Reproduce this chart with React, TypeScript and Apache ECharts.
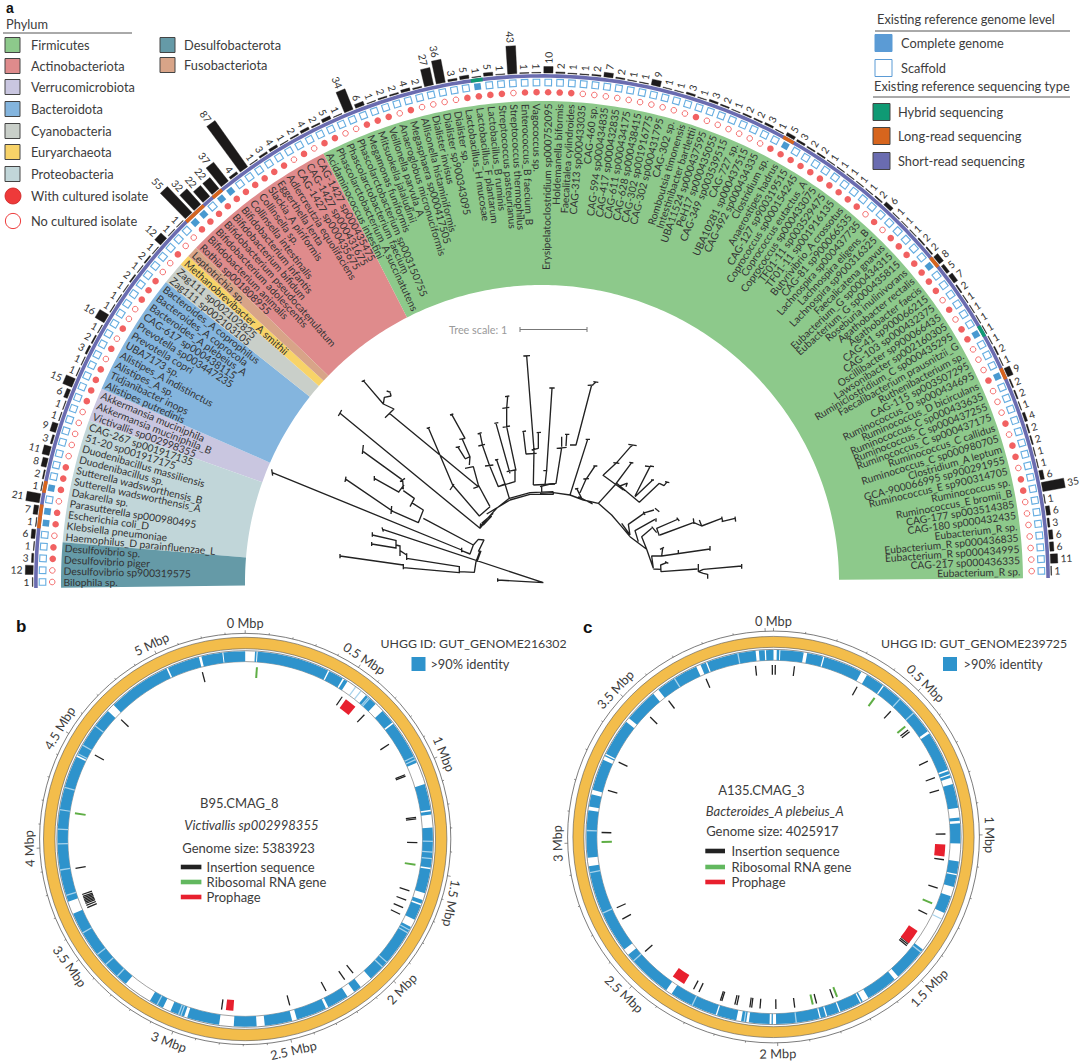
import React, { useEffect, useRef } from "react";
import * as echarts from "echarts";

const FONT = "Lato";
const INK = "#3c3c3c";
const W = 1080, H = 1062;

// ---------- panel a data ----------
const taxa = ["Bilophila sp.","Desulfovibrio sp900319575","Desulfovibrio piger","Desulfovibrio sp.","Haemophilus_D parainfluenzae_L","Klebsiella pneumoniae","Escherichia coli_D","Parasutterella sp000980495","Dakarella sp.","Sutterella wadsworthensis_A","Sutterella wadsworthensis_B","Duodenibacillus sp.","Duodenibacillus massiliensis","51-20 sp001917175","CAG-267 sp001917135","Victivallis sp002998355","Akkermansia muciniphila_B","Akkermansia muciniphila","Alistipes putredinis","Tidjanibacter inops","Alistipes_A sp.","Alistipes_A indistinctus","UBA7173 sp.","Prevotella copri","Prevotella sp003447235","CAG-617 sp000438115","Bacteroides_A plebeius_A","Bacteroides_A coprocola","Bacteroides_A coprophilus","Zag111 sp002103105","Zag111 sp002102825","Methanobrevibacter_A smithii","Leptotrichia sp.","Rothia sp001808955","Bifidobacterium animalis","Bifidobacterium adolescentis","Bifidobacterium pseudocatenulatum","Bifidobacterium bifidum","Bifidobacterium infantis","Collinsella intestinalis","Collinsella sp.","Slackia_A piriformis","Eggerthella lenta","Adlercreutzia equolifaciens","CAG-1427 sp000435675","CAG-1427 sp000431675","CAG-1427 sp000435475","Acidaminococcus intestini","Phascolarctobacterium_A succinatutens","Phascolarctobacterium faecium","Phascolarctobacterium sp003150755","Megamonas funiformis","Mitsuokella jalaludinii","Veillonella parvula_A","Anaeroglobus micronuciformis","Megasphaera sp000417505","Allisonella histaminiformis","Dialister invisus","Dialister sp900343095","Dialister sp.","Lactobacillus_H mucosae","Lactobacillus_F plantarum","Lactobacillus_B ruminis","Streptococcus pasteurianus","Streptococcus thermophilus","Enterococcus_B faecium_B","Vagococcus sp.","Erysipelatoclostridium sp000752095","Holdemanella biformis","Faecalitalea cylindroides","CAG-313 sp000433035","CAG-460 sp.","CAG-594 sp000434835","CAG-417 sp000432835","CAG-611 sp000434175","CAG-628 sp000438415","CAG-302 sp001916775","CAG-302 sp000431795","CAG-302 sp.","Romboutsia timonensis","Intestinibacter bartlettii","UBA11524 sp000437595","PeH17 sp000435055","CAG-349 sp003539515","CAG-727 sp.","UBA10281 sp000437515","CAG-492 sp000434335","Clostridium sp.","Anaerostipes hadrus","CAG-127 sp900319515","Coprococcus sp000154245","Coprococcus eutactus_A","Coprococcus sp000433075","TF01-11 sp003529475","TF01-11 sp001916135","Butyrivibrio_A crossotus","CAG-81 sp900066535","Lachnospira sp000437735","Lachnospira eligens_B","Lachnospira sp900316325","Faecalicatena gnavus","Eubacterium_G sp000434315","Eubacterium_G sp000435815","Roseburia inulinivorans","Agathobacter rectalis","Agathobacter faecis","CAG-41 sp900066215","CAG-103 sp000432375","Oscillibacter sp900066435","Lawsonibacter sp002160305","Ruminiclostridium_C sp000435295","Faecalibacterium prausnitzii_G","Ruthenibacterium sp.","CAG-115 sp003507295","Ruminococcus_D sp000434695","Ruminococcus_D bicirculans","Ruminococcus_C sp000433635","Ruminococcus_C sp000437255","Ruminococcus_C sp000437175","Ruminococcus_C callidus","Ruminococcus_C sp000980705","Clostridium_A leptum","GCA-900066995 sp900291955","Ruminococcus_E sp900314705","Ruminococcus sp.","Ruminococcus_E bromii_B","CAG-177 sp003514385","CAG-180 sp000432435","Eubacterium_R sp.","Eubacterium_R sp000436835","Eubacterium_R sp000434995","CAG-217 sp000436335","Eubacterium_R sp."];
const counts = [1,12,3,1,6,1,7,21,1,2,8,11,3,9,1,1,6,15,1,1,3,2,1,16,1,1,1,2,1,2,1,12,1,1,55,32,22,22,37,4,87,1,3,4,1,2,4,2,5,1,34,6,1,2,2,4,2,27,36,3,5,1,5,1,43,1,1,10,2,1,1,2,7,2,1,1,9,1,1,3,1,3,2,1,2,2,3,1,5,3,2,2,1,1,1,1,1,2,6,1,1,1,2,2,8,5,7,2,1,1,1,1,1,2,1,9,2,2,1,4,2,2,1,1,6,35,1,6,3,6,6,11,1];
const withCultured = [2,3,5,6,8,9,10,16,17,18,19,21,23,26,27,28,31,34,35,36,37,38,39,40,41,42,43,45,47,48,51,52,53,55,60,61,62,63,65,66,67,68,69,80,87,88,89,90,91,92,93,94,95,96,98,100,101,102,103,104,105,106,108,110,111,115,119,121,122,124,125];
const completeGenome = [5,6,8,34,35,37,38,61,88,104,111,115];
const longRead = [5,6,8,34,35,37,88,104,115];
const hybrid = [61,111];
const phylumNames = ["Firmicutes","Actinobacteriota","Verrucomicrobiota","Bacteroidota","Cyanobacteria","Euryarchaeota","Proteobacteria","Desulfobacterota","Fusobacteriota"];
const phylumColors = ["#8dc98b","#df8b8c","#c9c6e0","#84b5de","#c9cfc9","#f8d368","#c1d6d9","#659aa7","#d8a488"];
const phylumRanges = [[46.5,132.62],[32.5,46.5],[14.5,17.5],[17.5,28.5],[28.5,30.5],[30.5,31.5],[3.5,14.5],[-0.5,3.5],[31.5,32.5]];

const C_SHORT = "#6a6cb0", C_LONG = "#d7651d", C_HYBRID = "#0f9a74", C_RED = "#ee3a3a";

// ---------- tree data (branch layout units) ----------
const treeLeft: number[][][] = [
[[803,805],[803,815]],[[803,810],[940,818],[458,658]],[[456,652],[460,665]],[[330,732],[330,745]],[[330,738],[520,765]],
[[520,762],[520,778]],[[520,773],[688,788]],[[688,768],[688,790]],[[530,730],[530,750]],[[530,745],[688,770]],
[[427,667],[427,680]],[[427,675],[500,692]],[[425,696],[425,708]],[[425,702],[498,714]],[[498,690],[498,716]],
[[498,705],[510,708]],[[510,706],[510,738]],[[510,722],[530,735]],[[688,785],[733,787],[738,755],[750,722]],[[741,755],[753,722]],
[[125,478],[128,497]],[[125,487],[695,720]],[[695,713],[695,727]],[[695,722],[720,732],[730,705],[745,688],[762,690],[745,725]],
[[580,625],[730,705]],[[348,500],[345,516]],[[348,508],[490,605]],[[485,588],[483,612]],[[490,605],[565,638],[580,600],[545,578]],
[[540,590],[553,565],[520,542]],[[505,547],[522,525]],[[433,498],[433,512]],[[433,505],[508,547]],[[518,510],[520,538]],[[510,515],[525,505]],
[[400,405],[397,432]],[[400,425],[515,508]],[[325,318],[335,300]],[[330,310],[750,655],[770,630]],[[750,655],[752,640]],
[[590,355],[600,352]],[[595,353],[668,525],[748,618],[780,590]],[[660,540],[672,522]],[[395,215],[405,210]],[[400,212],[460,282],[492,297],[465,323]],
[[470,243],[482,247]],[[480,245],[483,258],[463,262],[460,282]],[[478,310],[745,530],[730,535]],[[660,315],[670,312]],[[665,313],[705,385]],
[[688,388],[706,385]],[[697,388],[720,440],[705,447]],[[677,412],[690,410]],[[683,410],[705,445]],[[720,440],[718,465]],[[705,475],[730,470],[745,525],[780,590]],
[[743,372],[755,368]],[[750,370],[757,403]],[[745,408],[765,403]],[[757,405],[778,465]],[[765,468],[790,465]],[[778,465],[805,530],[855,515],[855,480],[830,485]],
[[795,450],[805,448]],[[800,450],[825,522],[838,565]],[[805,530],[825,522]],[[793,340],[805,338]],[[798,340],[840,490]],
[[825,260],[838,258]],[[833,260],[830,295]],[[817,295],[838,292]],[[830,295],[830,350]],[[818,352],[840,348]],[[830,350],[858,482]],
[[750,650],[800,595],[838,565],[900,548],[970,545]],[[755,640],[790,610]],[[760,645],[785,618]],[[770,612],[840,570]],[[840,570],[900,553],[970,553],[970,545]],
[[880,138],[900,137]],[[890,138],[912,420],[910,525]],[[877,365],[888,363]],[[880,365],[888,432],[920,430]],[[920,368],[933,367]],[[925,368],[925,415],[905,420]],
[[910,525],[975,522]],[[935,525],[935,545]]];
const treeRight: number[][][] = [
[[160,125],[175,127]],[[168,126],[155,137]],[[143,136],[160,135]],[[155,135],[108,315],[90,315]],[[75,283],[88,283]],[[80,285],[78,318]],[[65,290],[65,320]],
[[50,325],[80,322]],[[65,323],[48,430],[30,432]],[[28,144],[44,144]],[[36,145],[20,390],[15,435]],[[10,392],[22,392]],[[0,440],[30,432]],[[137,298],[150,298]],
[[143,298],[90,465]],[[160,378],[172,378]],[[165,378],[138,418]],[[130,417],[147,416]],[[138,418],[120,458]],[[105,447],[115,445]],[[110,445],[125,475]],
[[0,460],[40,458],[90,465],[130,480],[175,490],[215,525],[245,560],[270,590]],[[115,470],[158,492]],[[245,550],[270,585]],
[[265,313],[290,317]],[[278,316],[270,322],[228,370],[190,405]],[[220,368],[238,370]],[[268,367],[280,369]],[[275,368],[225,435],[175,490]],
[[188,405],[250,450]],[[240,438],[260,430]],[[240,438],[255,452]],[[262,428],[258,440]],[[230,430],[298,487],[358,430]],[[315,378],[330,380],[285,468]],
[[330,378],[342,380]],[[333,420],[342,420]],[[338,420],[285,470]],[[375,425],[388,428]],[[382,425],[372,437],[358,430]],[[345,505],[358,515]],
[[342,510],[315,518],[265,553],[270,585]],[[310,515],[315,525]],[[348,535],[348,545]],[[345,538],[285,572],[295,605]],[[410,533],[418,543]],
[[415,537],[350,565],[358,587]],[[335,560],[350,578]],[[360,585],[460,548]],[[460,535],[462,552]],[[462,548],[485,558]],[[478,540],[485,558],[545,535]],
[[545,530],[548,545]],[[545,545],[585,535]],[[585,530],[587,545]],[[335,565],[305,590],[320,628]],[[510,618],[510,632]],[[510,627],[365,648]],
[[415,630],[415,645]],[[360,628],[372,622]],[[368,625],[365,648],[335,648],[340,685],[320,628],[270,590]],[[375,665],[385,670]],[[380,668],[362,675],[363,695],[472,687]],
[[340,687],[363,688]],[[605,672],[605,686]],[[605,678],[490,688]],[[475,672],[475,695],[490,688]],[[475,695],[490,700],[503,703]],[[503,702],[503,716]]];

// ---------- panels b and c data (degrees clockwise from 0 Mbp) ----------
const genomeB = {
  size: 5.383923,
  ticks: [0,0.5,1,1.5,2,2.5,3,3.5,4,4.5,5],
  gaps: [[0,3],[3.5,3.8],[26.2,26.6],[31.3,31.8],[33,40],[44,47],[51.6,52.1],[66,73],[81,81.5],[82.5,86.5],[98.8,99.3],[106.8,109],[110.2,110.7],[115.5,118],[138,142],[144.5,147],[153.7,154.5],[164,165.5],[174,176.5],[183.5,188],[198,199],[203.5,206],[210.5,219.5],[246.5,250.5],[296,296.5],[313,315.5],[335.2,335.7],[345.7,346.5],[353,353.3]],
  pale: [36,38,41,41.5,64,65,90.7,94,96,119,120,131,133,200,200.8,208,223,228,232,240,252.5,260.5,268.5,273,279,286,297,300,307],
  insertion: [345.6,34.3,43.8,56.6,68.1,68.6,82.8,83.3,91.2,107.5,110.8,113.5,115.9,141.2,144.7,152,165,187.9,246.5,247.3,248,248.5,249,249.5,250,250.5,251.2,260.2,299.2,313.9],
  rrna: [3.9,98.6,278.6],
  prophage: [[37.8,4],[185.2,2.5]],
};
const genomeC = {
  size: 4.025917,
  ticks: [0,0.5,1,1.5,2,2.5,3,3.5],
  gaps: [[0,1],[1.8,2.1],[9.3,10.4],[15.4,15.8],[28,30],[35.8,36.2],[55.6,56.4],[68.8,69.3],[70.3,70.7],[71.5,73.5],[81,84],[85,85.8],[92,97.5],[101.4,101.8],[105.5,108.5],[114,127],[138.2,139.6],[149.5,151.5],[152,152.4],[159,159.4],[163.3,163.7],[165.3,165.7],[179.2,180.2],[180.6,181.2],[187.6,188.4],[190,191.5],[197.6,198],[213,215],[231,233],[261,263.6],[278.2,279.4],[283.2,284.6],[294.4,295.6],[296,296.4],[308,309.4],[320,322],[335.6,337],[338.8,339.2],[354.5,355.5],[357.3,357.7]],
  pale: [42.5,48.5,116,128,173,189,205.8,228.5,246,259,272,328,349],
  insertion: [354,359.6,0.6,7,29.1,43,51.5,52.3,63.8,69.8,74.2,89,97.6,107.3,116.7,128,128.6,129.2,159.7,165.5,172.9,179.2,184.5,187.3,187.9,192.3,193,197.5,198,205.7,207.7,228.3,241.5,245.7,271.5,285.7,295.8,314.2,322.4,336.9],
  rrna: [36,50,112.7,158.3,166.8,268.3],
  prophage: [[94.5,4],[125.6,5],[213.6,4.5]],
};

// ---------- geometry of the polar frames ----------
const STEP = 1.354;             // degrees per taxon
const A_CX = 542, A_CY = 582, A_R = 575, BAR_BASE = 509, BAR_K = 0.65;
const B = { cx: 245.2, cy: 839, outer: 205.6, y1: 201.7, y0: 190.3, ring: 188.3, b1: 187.7, b0: 177.4, f0: 161.4, f1: 172.2 };
const Cc = { cx: 773.5, cy: 837, outer: 205.9, y1: 200.6, y0: 189.7, ring: 187.6, b1: 187, b0: 176.7, f0: 161.7, f1: 172 };

const TEXT = (text: string, x: number, y: number, size = 12.8, extra: any = {}) => ({
  type: "text", x, y, silent: true,
  style: { text, fontFamily: FONT, fontSize: size, fill: INK, align: "left", verticalAlign: "middle", ...extra },
});

function arc(api: any, r0: number, r1: number, a0: number, a1: number, n = 8) {
  const pts: number[][] = [];
  for (let k = 0; k <= n; k++) pts.push(api.coord([r1, a0 + ((a1 - a0) * k) / n]));
  for (let k = n; k >= 0; k--) pts.push(api.coord([r0, a0 + ((a1 - a0) * k) / n]));
  return pts;
}

function treeData(lines: number[][][]) {
  const out: any[] = [];
  lines.forEach((l) => { l.forEach((p) => out.push(p)); out.push(["-", "-"]); });
  return out;
}

function genomeSeries(polarIndex: number, g: any, f: typeof B) {
  const sorted = [...g.gaps].sort((a: number[], b: number[]) => a[0] - b[0]);
  const blocks: number[][] = [];
  let pos = sorted[0][1];
  sorted.slice(1).forEach((gap: number[]) => { blocks.push([pos, gap[0]]); pos = gap[1]; });
  blocks.push([pos, 360 + sorted[0][0]]);
  const base = { type: "custom", coordinateSystem: "polar", polarIndex, silent: true, clip: false };
  const minor: number[] = [];
  for (let m = 0; m < g.size; m += 0.1) minor.push(m);
  return [
    { ...base, data: [[0, 0]], renderItem: () => ({ type: "group", children: [
        { type: "ring", shape: { cx: f.cx, cy: f.cy, r: f.y1, r0: f.y0 }, style: { fill: "#f3bd4b", stroke: "#555", lineWidth: 0.6 } },
        { type: "circle", shape: { cx: f.cx, cy: f.cy, r: f.outer }, style: { fill: "none", stroke: "#444", lineWidth: 0.7 } },
        { type: "circle", shape: { cx: f.cx, cy: f.cy, r: f.ring }, style: { fill: "none", stroke: "#444", lineWidth: 0.6 } },
        { type: "circle", shape: { cx: f.cx, cy: f.cy, r: f.b0 }, style: { fill: "none", stroke: "#444", lineWidth: 0.5 } },
      ] }) },
    { ...base, data: blocks.map((b) => [f.b0, b[0]]), renderItem: (p: any, api: any) => {
        const b = blocks[p.dataIndex];
        return { type: "polygon", shape: { points: arc(api, f.b0, f.b1, b[0], b[1], Math.max(2, Math.ceil((b[1] - b[0]) / 2))) }, style: { fill: "#2e93cc" } };
      } },
    { ...base, data: g.pale.map((a: number) => [f.b0, a]), renderItem: (p: any, api: any) => {
        const a = g.pale[p.dataIndex];
        return { type: "polygon", shape: { points: arc(api, f.b0, f.b1, a - 0.2, a + 0.2, 1) }, style: { fill: "#a7d3ec" } };
      } },
    { ...base, data: minor.map((m) => [f.outer, m]), renderItem: (p: any, api: any) => {
        const a = (minor[p.dataIndex] / g.size) * 360;
        const major = Math.abs(minor[p.dataIndex] * 2 - Math.round(minor[p.dataIndex] * 2)) < 1e-6;
        const s = api.coord([f.outer, a]), e = api.coord([f.outer + (major ? 3.2 : 1.7), a]);
        return { type: "line", shape: { x1: s[0], y1: s[1], x2: e[0], y2: e[1] }, style: { stroke: "#444", lineWidth: 0.6 } };
      } },
    { ...base, data: g.insertion.map((a: number) => [f.f0, a]), renderItem: (p: any, api: any) => {
        const a = g.insertion[p.dataIndex];
        const s = api.coord([f.f0 + 0.5, a]), e = api.coord([f.f1, a]);
        return { type: "line", shape: { x1: s[0], y1: s[1], x2: e[0], y2: e[1] }, style: { stroke: "#222", lineWidth: 1.3 } };
      } },
    { ...base, data: g.rrna.map((a: number) => [f.f0, a]), renderItem: (p: any, api: any) => {
        const a = g.rrna[p.dataIndex];
        const s = api.coord([f.f0, a]), e = api.coord([f.f1, a]);
        return { type: "line", shape: { x1: s[0], y1: s[1], x2: e[0], y2: e[1] }, style: { stroke: "#5fae45", lineWidth: 2 } };
      } },
    { ...base, data: g.prophage.map((a: number[]) => [f.f0, a[0]]), renderItem: (p: any, api: any) => {
        const a = g.prophage[p.dataIndex];
        return { type: "polygon", shape: { points: arc(api, f.f0, f.f1, a[0] - a[1] / 2, a[0] + a[1] / 2, 2) }, style: { fill: "#e8202e" } };
      } },
    { ...base, data: g.ticks.map((t: number) => [216.5, t]), renderItem: (p: any, api: any) => {
        const t = g.ticks[p.dataIndex];
        let a = (t / g.size) * 360;
        const rot = a <= 105 ? a : a <= 250 ? a - 180 : a - 360;
        if (a > 95 && a < 105) a += 7;
        const pt = api.coord([216.5, a]);
        return { type: "text", x: pt[0], y: pt[1], rotation: (-rot * Math.PI) / 180,
          style: { text: `${t} Mbp`, fontFamily: FONT, fontSize: 12.8, fill: INK, align: "center", verticalAlign: "middle" } };
      } },
  ];
}

function buildOption() {
  const culturedSet = new Set(withCultured), completeSet = new Set(completeGenome);
  const polar0 = (cx: number, cy: number, r: number) => ({ center: [cx, cy], radius: [0, r] });
  const idx = taxa.map((_, i) => i);

  const sqData = (ids: number[]) => ids.map((i) => ({ value: [499.5, i], symbolRotate: 180 - i * STEP }));
  const circ = (ids: number[]) => ids.map((i) => [489.8, i]);
  const scatterBase = { type: "scatter", coordinateSystem: "polar", polarIndex: 0, silent: true, clip: false };

  const segs = [
    ...longRead.map((i) => [i, C_LONG]),
    ...hybrid.map((i) => [i, C_HYBRID]),
  ] as [number, string][];

  const series: any[] = [
    { type: "custom", coordinateSystem: "polar", polarIndex: 0, silent: true, clip: false,
      data: phylumNames.map((_, i) => [480, phylumRanges[i][0]]),
      renderItem: (p: any, api: any) => {
        const [a, b] = phylumRanges[p.dataIndex];
        return { type: "polygon", shape: { points: arc(api, 297, 481, a, b, Math.ceil((b - a) * 2)) }, style: { fill: phylumColors[p.dataIndex] } };
      } },
    { type: "custom", coordinateSystem: "polar", polarIndex: 0, silent: true, clip: false,
      data: [[506, 0]],
      renderItem: (p: any, api: any) => ({ type: "polygon", shape: { points: arc(api, 504.3, 507.9, -0.5, 132.6, 240) }, style: { fill: C_SHORT } }) },
    { type: "custom", coordinateSystem: "polar", polarIndex: 0, silent: true, clip: false,
      data: segs.map((s) => [506, s[0]]),
      renderItem: (p: any, api: any) => {
        const [i, c] = segs[p.dataIndex];
        return { type: "polygon", shape: { points: arc(api, 504.3, 507.9, i - 0.5, i + 0.5, 2) }, style: { fill: c } };
      } },
    { ...scatterBase, symbol: "rect", symbolSize: 6.6, data: sqData(idx.filter((i) => !completeSet.has(i))),
      itemStyle: { color: "#fff", borderColor: "#3d97d8", borderWidth: 1.1 } },
    { ...scatterBase, symbol: "rect", symbolSize: 6.6, data: sqData(completeGenome), itemStyle: { color: "#1b7fc4" } },
    { ...scatterBase, symbol: "circle", symbolSize: 5.6, data: circ(idx.filter((i) => !culturedSet.has(i))),
      itemStyle: { color: "#fff", borderColor: C_RED, borderWidth: 0.9 } },
    { ...scatterBase, symbol: "circle", symbolSize: 6.6, data: circ(withCultured), itemStyle: { color: C_RED } },
    // species labels
    { type: "custom", coordinateSystem: "polar", polarIndex: 0, silent: true, clip: false,
      data: taxa.map((_, i) => [478, i]),
      renderItem: (p: any, api: any) => {
        const i = p.dataIndex, th = 180 - i * STEP, left = i <= 66;
        const pt = api.coord([478.5, i]);
        return { type: "text", x: pt[0], y: pt[1], rotation: (((left ? th - 180 : th)) * Math.PI) / 180,
          style: { text: taxa[i], fontFamily: FONT, fontSize: 10.3, fill: "#333", align: left ? "left" : "right", verticalAlign: "middle" } };
      } },
    // isolate count bars
    { type: "custom", coordinateSystem: "polar", polarIndex: 1, silent: true, clip: false,
      data: counts.map((c, i) => [c, i]),
      renderItem: (p: any, api: any) => {
        const i = p.dataIndex, c = api.value(0), th = 180 - i * STEP, left = i <= 66;
        const h = 0.38;
        const pts = [api.coord([0, i - h]), api.coord([c, i - h]), api.coord([c, i + h]), api.coord([0, i + h])];
        const lp = api.coord([c + 4.5, i]);
        return { type: "group", children: [
          { type: "polygon", shape: { points: pts }, style: { fill: "#1c1a1a", stroke: "#1c1a1a", lineWidth: 0.4 } },
          { type: "text", x: lp[0], y: lp[1], rotation: ((left ? th - 180 : th) * Math.PI) / 180,
            style: { text: String(c), fontFamily: FONT, fontSize: 10.2, fill: "#333", align: left ? "right" : "left", verticalAlign: "middle" } },
        ] };
      } },
    // tree
    { type: "line", xAxisIndex: 0, yAxisIndex: 0, data: treeData(treeLeft), showSymbol: false, silent: true, connectNulls: false, lineStyle: { color: "#222", width: 1.35 } },
    { type: "line", xAxisIndex: 1, yAxisIndex: 1, data: treeData(treeRight), showSymbol: false, silent: true, connectNulls: false, lineStyle: { color: "#222", width: 1.35 } },
    ...genomeSeries(2, genomeB, B),
    ...genomeSeries(3, genomeC, Cc),
  ];

  const swatch = (x: number, yc: number, s: number, fill: string, stroke = "#444", lw = 1) => ({
    type: "rect", shape: { x, y: yc - s / 2, width: s, height: s }, style: { fill, stroke, lineWidth: lw }, silent: true });
  const rule = (x1: number, x2: number, y: number, stroke = "#555") => ({
    type: "line", shape: { x1, y1: y, x2, y2: y }, style: { stroke, lineWidth: 1 }, silent: true });
  const bar = (x: number, y: number, w: number, fill: string) => ({ type: "rect", shape: { x, y: y - 2.3, width: w, height: 4.6 }, style: { fill }, silent: true });
  const leftCol = [0, 1, 2, 3, 4, 5, 6];
  const leftY = [45, 66, 87, 109, 131, 152, 174];
  const boldLetter = { fontWeight: "bold", fill: "#111", fontFamily: "Liberation Sans" };
  const graphics: any[] = [
    TEXT("a", 6, 8, 14, boldLetter),
    TEXT("b", 16, 626, 17, boldLetter),
    TEXT("c", 583, 627, 17, boldLetter),
    TEXT("Phylum", 6, 24),
    rule(3, 132, 33),
    ...leftCol.flatMap((i) => [swatch(5, leftY[i], 15, phylumColors[i]), TEXT(phylumNames[i], 31, leftY[i])]),
    swatch(160, 45, 15, phylumColors[7]), TEXT(phylumNames[7], 184, 45),
    swatch(160, 65, 15, phylumColors[8]), TEXT(phylumNames[8], 184, 65),
    { type: "circle", shape: { cx: 13, cy: 196, r: 8 }, style: { fill: C_RED, stroke: "#c22", lineWidth: 0.8 }, silent: true },
    TEXT("With cultured isolate", 31, 196),
    { type: "circle", shape: { cx: 13, cy: 221, r: 7.6 }, style: { fill: "#fff", stroke: C_RED, lineWidth: 1 }, silent: true },
    TEXT("No cultured isolate", 31, 221),
    TEXT("Existing reference genome level", 877, 19),
    rule(875, 1070, 31),
    swatch(875, 43, 17, "#5b9bd5", "#5b9bd5"), TEXT("Complete genome", 901, 43),
    swatch(875, 68, 17, "#fff", "#5b9bd5"), TEXT("Scaffold", 901, 68),
    TEXT("Existing reference sequencing type", 874, 86),
    rule(873, 1070, 97),
    swatch(873, 112, 17, C_HYBRID), TEXT("Hybrid sequencing", 898, 112),
    swatch(873, 136, 17, C_LONG), TEXT("Long-read sequencing", 898, 136),
    swatch(873, 161, 17, C_SHORT), TEXT("Short-read sequencing", 898, 161),
    TEXT("Tree scale: 1", 449, 329, 10.8, { fill: "#9a9a9a" }),
    { type: "line", shape: { x1: 520, y1: 329.5, x2: 587, y2: 329.5 }, style: { stroke: "#777", lineWidth: 1.2 }, silent: true },
    { type: "line", shape: { x1: 520, y1: 327, x2: 520, y2: 332 }, style: { stroke: "#777", lineWidth: 1 }, silent: true },
    { type: "line", shape: { x1: 587, y1: 327, x2: 587, y2: 332 }, style: { stroke: "#777", lineWidth: 1 }, silent: true },
    // panel b annotation
    TEXT("UHGG ID: GUT_GENOME216302", 380.5, 643, 12.3),
    swatch(411.5, 664, 14, "#2e93cc", "#2e93cc", 0), TEXT(">90% identity", 430.4, 664),
    TEXT("B95.CMAG_8", 239.3, 803, 13, { align: "center" }),
    TEXT("Victivallis sp002998355", 251.4, 825, 13, { align: "center", fontStyle: "italic" }),
    TEXT("Genome size: 5383923", 248.6, 848, 13, { align: "center" }),
    bar(180.8, 867, 20.6, "#222"), TEXT("Insertion sequence", 206.6, 867, 13),
    bar(180.8, 882, 20.6, "#62b85f"), TEXT("Ribosomal RNA gene", 206.6, 882, 13),
    bar(180.8, 897, 20.6, "#e8202e"), TEXT("Prophage", 206.6, 897, 13),
    // panel c annotation
    TEXT("UHGG ID: GUT_GENOME239725", 881, 643, 12.3),
    swatch(943, 664, 14, "#2e93cc", "#2e93cc", 0), TEXT(">90% identity", 963.6, 664),
    TEXT("A135.CMAG_3", 761.4, 790, 13, { align: "center" }),
    TEXT("Bacteroides_A plebeius_A", 774.8, 811, 13, { align: "center", fontStyle: "italic" }),
    TEXT("Genome size: 4025917", 772.4, 831, 13, { align: "center" }),
    bar(705.3, 851, 19.7, "#222"), TEXT("Insertion sequence", 731.5, 851, 13),
    bar(705.3, 867, 19.7, "#62b85f"), TEXT("Ribosomal RNA gene", 731.5, 867, 13),
    bar(705.3, 882, 19.7, "#e8202e"), TEXT("Prophage", 731.5, 882, 13),
  ];

  const hiddenAxis = (gridIndex: number, max: number, inverse = false) => ({ type: "value", gridIndex, min: 0, max, show: false, inverse, splitLine: { show: false } });
  return {
    animation: false,
    backgroundColor: "#fff",
    grid: [
      { left: 230, top: 310, width: 400, height: 290 },
      { left: 540, top: 340, width: 220, height: 250 },
    ],
    xAxis: [hiddenAxis(0, 1200), hiddenAxis(1, 660)],
    yAxis: [hiddenAxis(0, 870, true), hiddenAxis(1, 750, true)],
    polar: [polar0(A_CX, A_CY, A_R), polar0(A_CX, A_CY, A_R), polar0(B.cx, B.cy, 230), polar0(Cc.cx, Cc.cy, 230)],
    radiusAxis: [
      { polarIndex: 0, type: "value", min: 0, max: A_R, show: false },
      { polarIndex: 1, type: "value", min: -BAR_BASE / BAR_K, max: (A_R - BAR_BASE) / BAR_K, show: false },
      { polarIndex: 2, type: "value", min: 0, max: 230, show: false },
      { polarIndex: 3, type: "value", min: 0, max: 230, show: false },
    ],
    angleAxis: [
      { polarIndex: 0, type: "value", min: 0, max: 360 / STEP, startAngle: 180, show: false },
      { polarIndex: 1, type: "value", min: 0, max: 360 / STEP, startAngle: 180, show: false },
      { polarIndex: 2, type: "value", min: 0, max: 360, startAngle: 90, show: false },
      { polarIndex: 3, type: "value", min: 0, max: 360, startAngle: 90, show: false },
    ],
    series,
    graphic: { elements: graphics },
  };
}

export default function App() {
  const ref = useRef<HTMLDivElement>(null);
  useEffect(() => {
    document.body.style.margin = "0";
    const chart = echarts.init(ref.current!, undefined, { renderer: "svg", width: W, height: H });
    chart.setOption(buildOption() as any);
    return () => chart.dispose();
  }, []);
  return <div ref={ref} style={{ width: W, height: H }} />;
}
